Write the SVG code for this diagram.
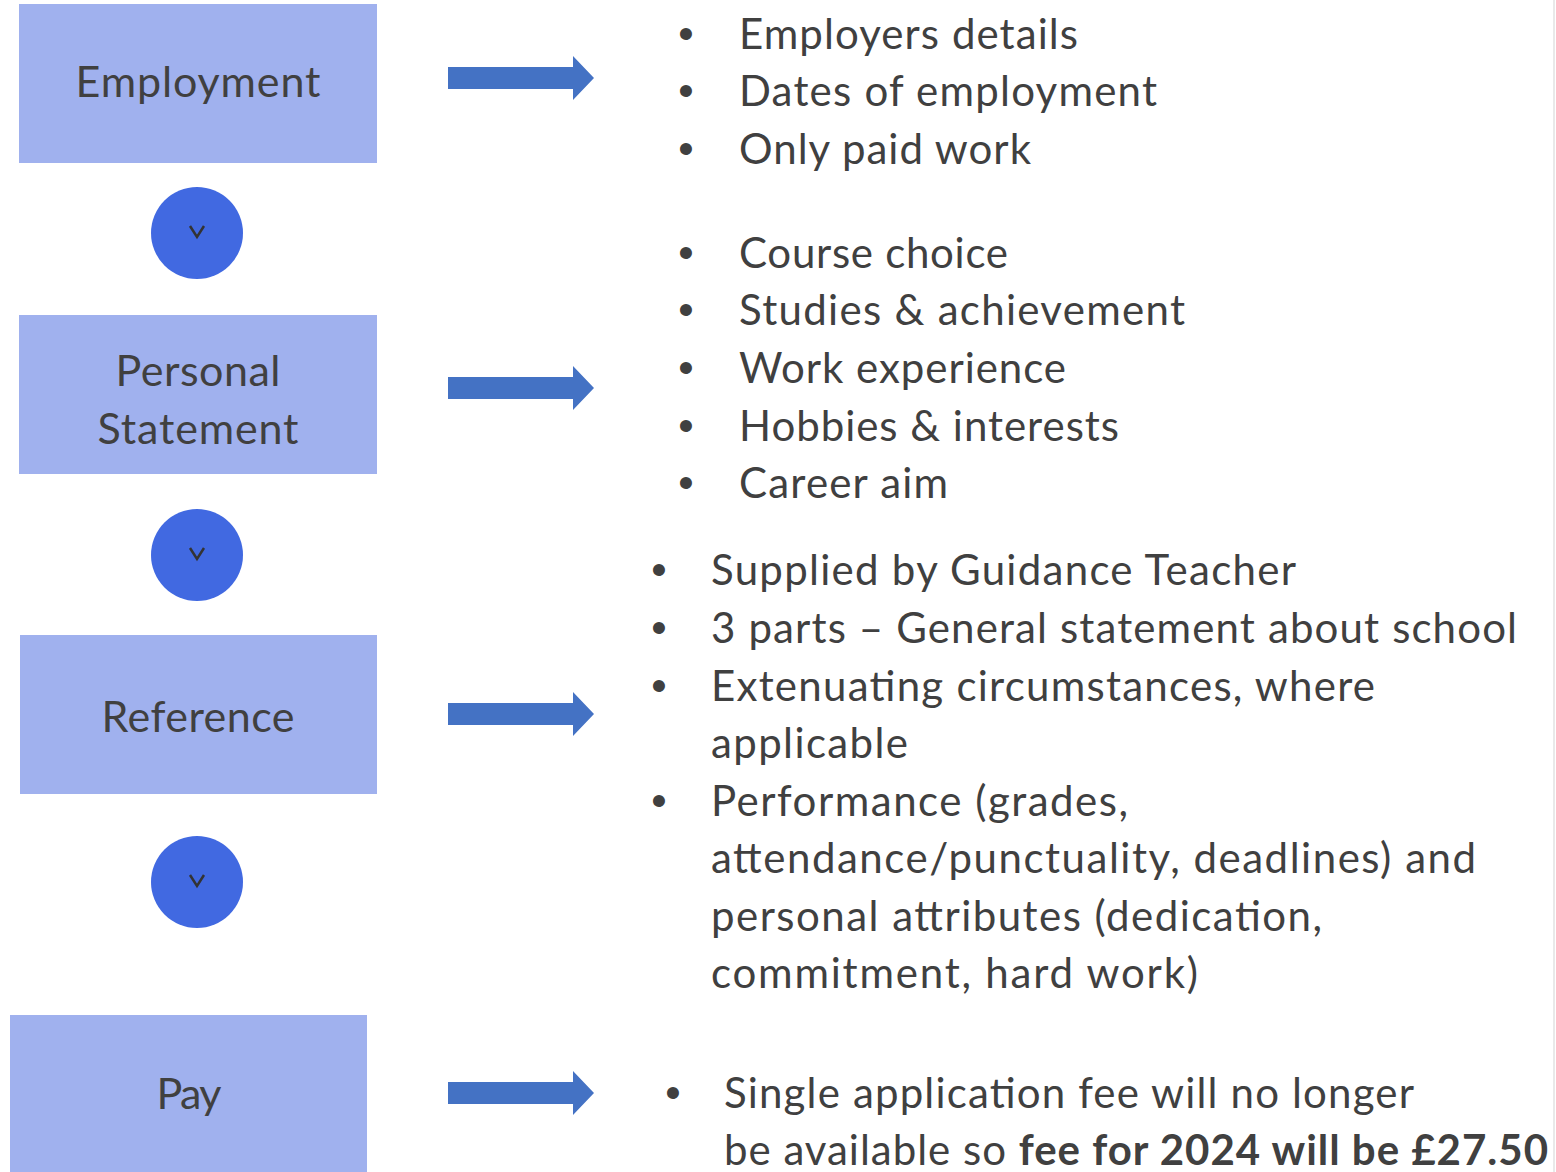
<svg xmlns="http://www.w3.org/2000/svg" width="1556" height="1172" viewBox="0 0 1556 1172">
<defs>
<style>
.box{fill:#A0B1EE}
.lbl{font-family:Lato,"Open Sans","Liberation Sans",sans-serif;font-size:43px;fill:#404040;text-anchor:middle}
.txt{font-family:Lato,"Open Sans","Liberation Sans",sans-serif;font-size:42px;fill:#404040}
.bul{font-family:"Liberation Sans",Arial,sans-serif;font-size:44px;fill:#404040;text-anchor:middle}
.circ{fill:#4169E1}
.chev{fill:none;stroke:#333;stroke-width:2.5}
.arr{fill:#4472C4}
</style>
<path id="arrow" class="arr" d="M0,-11 L125,-11 L125,-22 L146,0 L125,22 L125,11 L0,11 Z"/>
<path id="chevron" class="chev" d="M-7,-6 L0,5 L7,-6"/>
</defs>
<rect x="0" y="0" width="1556" height="1172" fill="#fff"/>
<line x1="1554" y1="0" x2="1554" y2="1172" stroke="#e2e2e2" stroke-width="1.5"/>

<g id="node-employment">
<rect class="box" x="19" y="4" width="358" height="159"/>
<text class="lbl" x="198" y="97" textLength="245" lengthAdjust="spacing">Employment</text>
</g>
<g id="node-personal-statement">
<rect class="box" x="19" y="315" width="358" height="159"/>
<text class="lbl" x="198" y="386" textLength="165" lengthAdjust="spacing">Personal</text>
<text class="lbl" x="198" y="444" textLength="201" lengthAdjust="spacing">Statement</text>
</g>
<g id="node-reference">
<rect class="box" x="20" y="635" width="357" height="159"/>
<text class="lbl" x="198" y="732" textLength="193" lengthAdjust="spacing">Reference</text>
</g>
<g id="node-pay">
<rect class="box" x="10" y="1015" width="357" height="157"/>
<text class="lbl" x="189" y="1109" textLength="65" lengthAdjust="spacing">Pay</text>
</g>

<g id="connectors">
<g id="step1"><circle class="circ" cx="197" cy="233" r="46"/><use href="#chevron" x="197" y="232"/></g>
<g id="step2"><circle class="circ" cx="197" cy="555" r="46"/><use href="#chevron" x="197" y="554"/></g>
<g id="step3"><circle class="circ" cx="197" cy="882" r="46"/><use href="#chevron" x="197" y="881"/></g>
<use href="#arrow" x="448" y="78"/>
<use href="#arrow" x="448" y="388"/>
<use href="#arrow" x="448" y="714"/>
<use href="#arrow" x="448" y="1093"/>
</g>

<g id="list-employment">
<text class="bul" x="686" y="49">•</text>
<text class="bul" x="686" y="106">•</text>
<text class="bul" x="686" y="164">•</text>
<text class="txt" x="739" y="49" textLength="339" lengthAdjust="spacing">Employers details</text>
<text class="txt" x="739" y="106" textLength="418" lengthAdjust="spacing">Dates of employment</text>
<text class="txt" x="739" y="164" textLength="292" lengthAdjust="spacing">Only paid work</text>
</g>
<g id="list-personal">
<text class="bul" x="686" y="268">•</text>
<text class="bul" x="686" y="325">•</text>
<text class="bul" x="686" y="383">•</text>
<text class="bul" x="686" y="441">•</text>
<text class="bul" x="686" y="498">•</text>
<text class="txt" x="739" y="268" textLength="269" lengthAdjust="spacing">Course choice</text>
<text class="txt" x="739" y="325" textLength="446" lengthAdjust="spacing">Studies &amp; achievement</text>
<text class="txt" x="739" y="383" textLength="327" lengthAdjust="spacing">Work experience</text>
<text class="txt" x="739" y="441" textLength="380" lengthAdjust="spacing">Hobbies &amp; interests</text>
<text class="txt" x="739" y="498" textLength="209" lengthAdjust="spacing">Career aim</text>
</g>
<g id="list-reference">
<text class="bul" x="659" y="585">•</text>
<text class="bul" x="659" y="643">•</text>
<text class="bul" x="659" y="701">•</text>
<text class="bul" x="659" y="816">•</text>
<text class="txt" x="711" y="585" textLength="585" lengthAdjust="spacing">Supplied by Guidance Teacher</text>
<text class="txt" x="711" y="643" textLength="806" lengthAdjust="spacing">3 parts – General statement about school</text>
<text class="txt" x="711" y="701" textLength="664" lengthAdjust="spacing">Extenuating circumstances, where</text>
<text class="txt" x="711" y="758" textLength="197" lengthAdjust="spacing">applicable</text>
<text class="txt" x="711" y="816" textLength="417" lengthAdjust="spacing">Performance (grades,</text>
<text class="txt" x="711" y="873" textLength="765" lengthAdjust="spacing">attendance/punctuality, deadlines) and</text>
<text class="txt" x="711" y="931" textLength="611" lengthAdjust="spacing">personal attributes (dedication,</text>
<text class="txt" x="711" y="988" textLength="487" lengthAdjust="spacing">commitment, hard work)</text>
</g>
<g id="list-pay">
<text class="bul" x="673" y="1108">•</text>
<text class="txt" x="724" y="1108" textLength="690" lengthAdjust="spacing">Single application fee will no longer</text>
<text class="txt" x="724" y="1165" textLength="824" lengthAdjust="spacing">be available so <tspan font-weight="bold">fee for 2024 will be £27.50</tspan></text>
</g>
</svg>
